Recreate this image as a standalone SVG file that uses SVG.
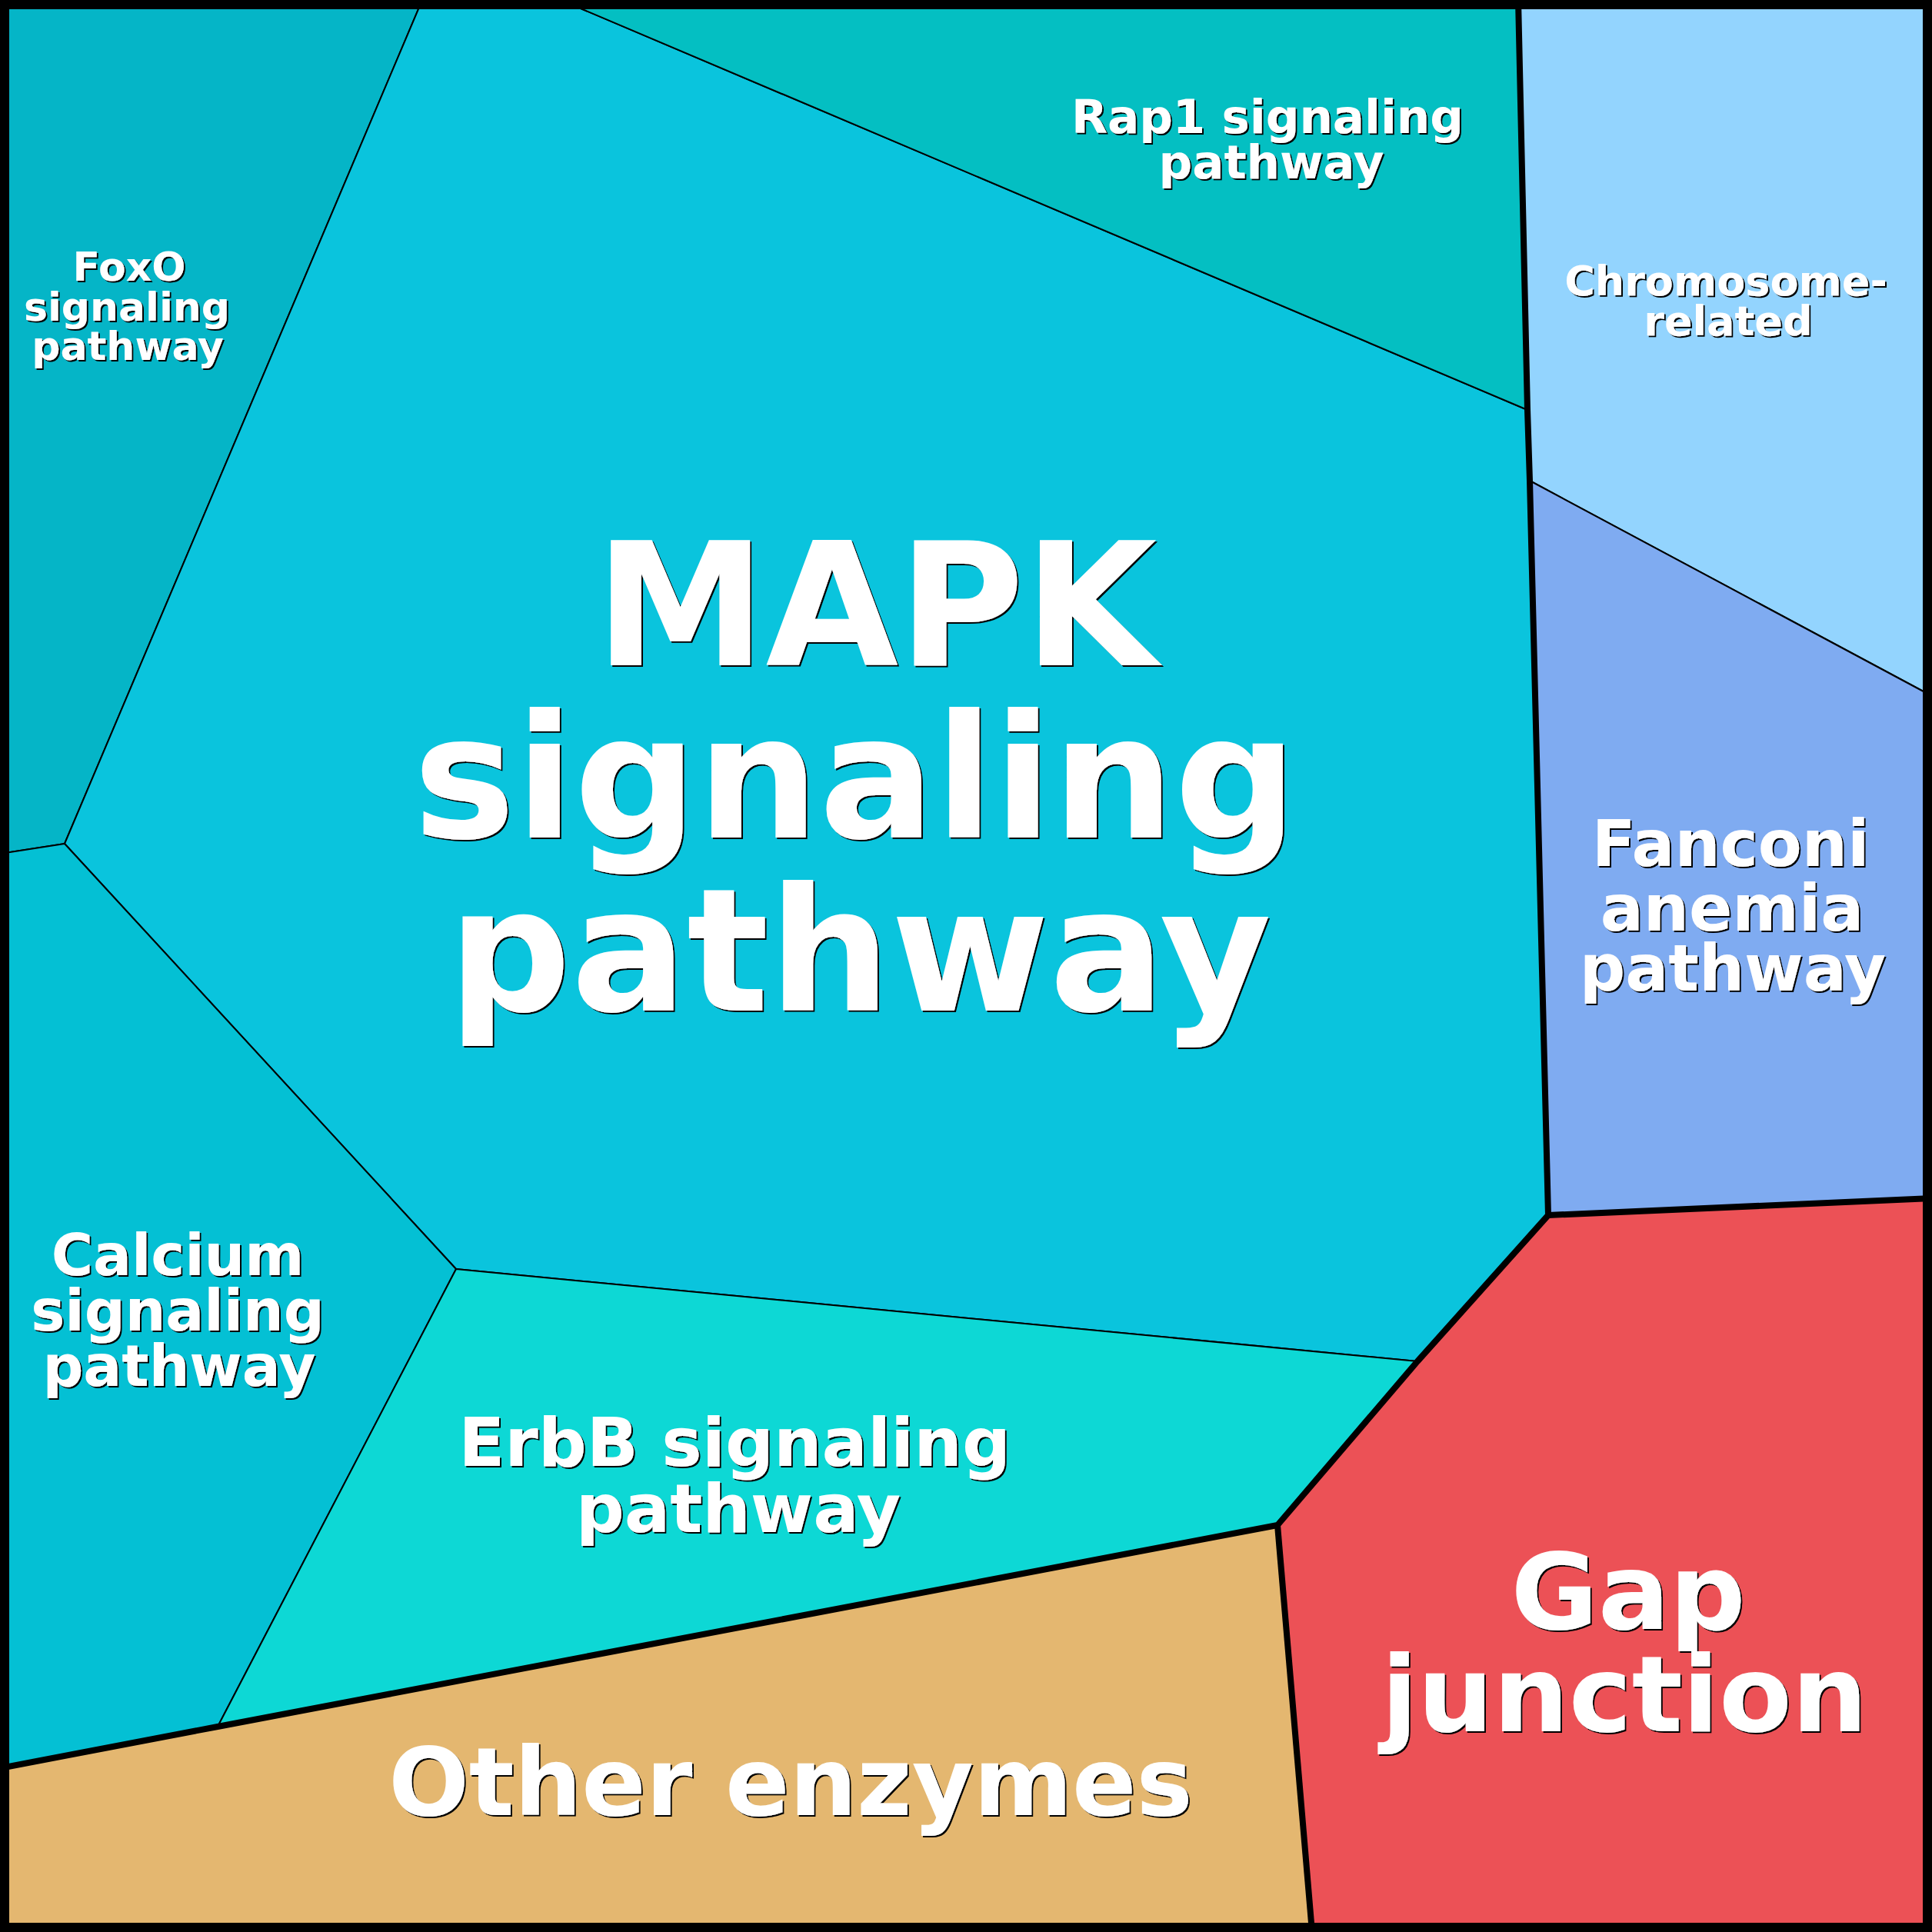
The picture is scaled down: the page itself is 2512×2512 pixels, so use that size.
<svg xmlns="http://www.w3.org/2000/svg" width="2512" height="2512" viewBox="0 0 2512 2512">
<defs>
<style>
.cell{stroke:#000;stroke-width:2;stroke-linejoin:round}
.thick{fill:none;stroke:#000;stroke-width:8;stroke-linejoin:round}
.lbl{font-family:"DejaVu Sans","Liberation Sans",sans-serif;font-weight:bold;fill:#fff;text-anchor:middle;filter:url(#sh)}
</style>
<filter id="sh" x="-5%" y="-20%" width="110%" height="140%">
<feDropShadow dx="2" dy="2" stdDeviation="0.4" flood-color="#000" flood-opacity="1"/>
</filter>
</defs>
<rect x="0" y="0" width="2512" height="2512" fill="#0AC4DD"/>
<g id="foxo">
<polygon class="cell" fill="#05B5C7" points="0,0 549,0 84,1097 0,1110"/>
<text class="lbl" font-size="52"><tspan x="168" y="365">FoxO</tspan><tspan x="165" y="417">signaling</tspan><tspan x="166" y="468">pathway</tspan></text>
</g>
<g id="mapk">
<polygon class="cell" fill="#0AC4DD" points="549,0 729,0 1986,533 1989,625 2013,1580 1843,1770 593,1650 84,1097"/>
<text class="lbl" font-size="223"><tspan x="1139" y="865">MAPK</tspan><tspan x="1112" y="1089">signaling</tspan><tspan x="1118" y="1314">pathway</tspan></text>
</g>
<g id="rap1">
<polygon class="cell" fill="#04BFC2" points="729,0 1974,0 1986,533"/>
<text class="lbl" font-size="61"><tspan x="1648" y="173">Rap1 signaling</tspan><tspan x="1653" y="232">pathway</tspan></text>
</g>
<g id="chromosome">
<polygon class="cell" fill="#93D4FE" points="1974,0 2512,0 2512,905 1989,625 1986,533"/>
<text class="lbl" font-size="54"><tspan x="2244" y="384">Chromosome-</tspan><tspan x="2247" y="436">related</tspan></text>
</g>
<g id="fanconi">
<polygon class="cell" fill="#7FABF1" points="1989,625 2512,905 2512,1558 2013,1580"/>
<text class="lbl" font-size="83"><tspan x="2250" y="1126">Fanconi</tspan><tspan x="2252" y="1210">anemia</tspan><tspan x="2253" y="1288">pathway</tspan></text>
</g>
<g id="calcium">
<polygon class="cell" fill="#04C0D4" points="0,1110 84,1097 593,1650 283,2245 0,2299"/>
<text class="lbl" font-size="74"><tspan x="231" y="1658">Calcium</tspan><tspan x="231" y="1730">signaling</tspan><tspan x="233" y="1802">pathway</tspan></text>
</g>
<g id="erbb">
<polygon class="cell" fill="#0DD8D5" points="593,1650 1843,1770 1661,1983 283,2245"/>
<text class="lbl" font-size="88"><tspan x="955" y="1906">ErbB signaling</tspan><tspan x="960" y="1992">pathway</tspan></text>
</g>
<g id="gap">
<polygon class="cell" fill="#EC5156" points="2013,1580 2512,1558 2512,2512 1706,2512 1661,1983 1843,1770"/>
<text class="lbl" font-size="138"><tspan x="2117" y="2118">Gap</tspan><tspan x="2112" y="2251">junction</tspan></text>
</g>
<g id="other">
<polygon class="cell" fill="#E4B770" points="0,2299 283,2245 1661,1983 1706,2512 0,2512"/>
<text class="lbl" font-size="123" x="1028" y="2360">Other enzymes</text>
</g>
<g id="connectors">
<polyline class="thick" points="0,2299 283,2245 1661,1983 1843,1770 2013,1580 1989,625 1986,533 1974,0"/>
<polyline class="thick" points="1661,1983 1706,2512"/>
<polyline class="thick" points="2013,1580 2512,1558"/>
<rect x="6" y="6" width="2500" height="2500" fill="none" stroke="#000" stroke-width="12"/>
</g>
</svg>
